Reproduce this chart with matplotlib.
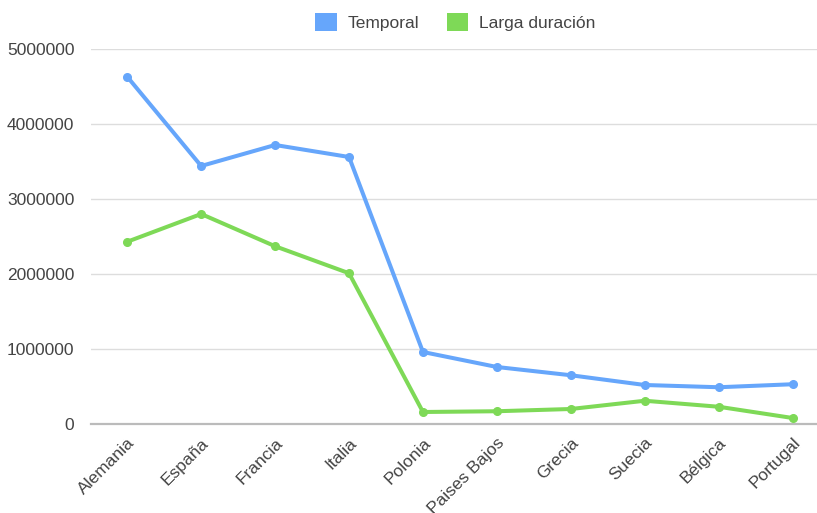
from matplotlib import pyplot as plt
from matplotlib.patches import Patch

# datos
paises = ["Alemania", "España", "Francia", "Italia", "Polonia",
          "Paises Bajos", "Grecia", "Suecia", "Bélgica", "Portugal"]
temporal = [4630000, 3440000, 3720000, 3560000, 960000,
            760000, 650000, 520000, 490000, 530000]
larga_duracion = [2430000, 2800000, 2370000, 2010000, 160000,
                  170000, 200000, 310000, 230000, 80000]

azul = "#66a6fb"
verde = "#7ed957"
texto = "#444444"

plt.rcParams['font.family'] = ['Liberation Sans', 'DejaVu Sans']

fig = plt.figure(figsize=(8.17, 5.13), dpi=100)
ax = fig.add_axes([0.1114, 0.1735, 0.8886, 0.731])

x = list(range(len(paises)))
ax.plot(x, temporal, color=azul, lw=2.9, marker="o", ms=5.5, solid_capstyle="round", zorder=3)
ax.plot(x, larga_duracion, color=verde, lw=2.9, marker="o", ms=5.5, solid_capstyle="round", zorder=3)

ax.set_ylim(0, 5000000)
ax.set_xlim(-0.49, 9.33)
ax.set_yticks(range(0, 5000001, 1000000))
ax.set_yticklabels([str(v) for v in range(0, 5000001, 1000000)])
ax.set_xticks(x)
ax.set_xticklabels(paises, rotation=45, ha="right", va="top", rotation_mode="anchor")
ax.tick_params(axis="both", length=0, labelsize=12.5, colors=texto)
ax.tick_params(axis="y", pad=12)
ax.tick_params(axis="x", pad=8)

# rejilla
ax.grid(axis="y", color="#dddddd", lw=1)
ax.set_axisbelow(True)
for s in ["top", "right", "left"]:
    ax.spines[s].set_visible(False)
ax.spines["bottom"].set_color("#bbbbbb")
ax.spines["bottom"].set_linewidth(1.6)
ax.spines["bottom"].set_zorder(2)

handles = [Patch(facecolor=azul, label="Temporal"), Patch(facecolor=verde, label="Larga duración")]
fig.legend(handles=handles, loc="center", bbox_to_anchor=(0.557, 0.957), ncol=2, frameon=False,
           fontsize=12.5, labelcolor=texto, handlelength=1.25, handleheight=1.25,
           handletextpad=0.6, columnspacing=1.6)

plt.savefig("out.png")
